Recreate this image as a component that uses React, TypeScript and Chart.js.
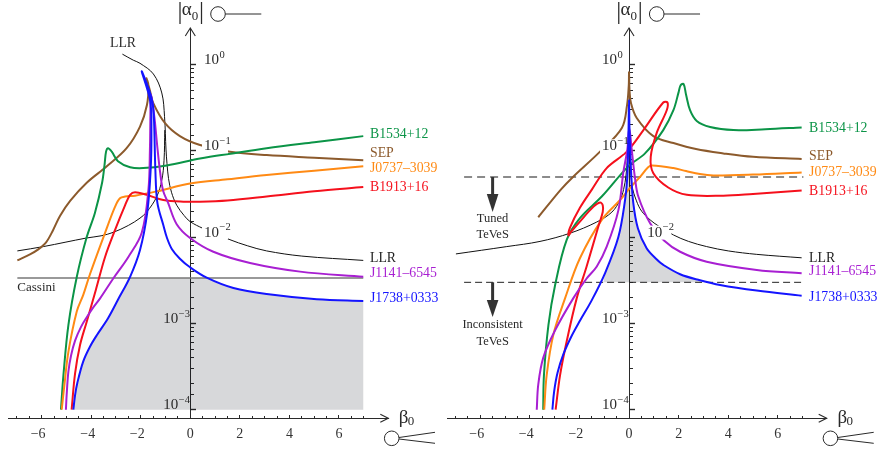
import React, { useEffect, useRef } from "react";
import { Chart, registerables } from "chart.js";

Chart.register(...registerables);

type Pt = [number, number]; // [beta0, log10 |alpha0|]

// ---------- left panel curves ----------
const L_J1738: Pt[] = [[-4.72,-4],[-4.65,-3.83],[-4.56,-3.69],[-4.32,-3.44],[-4.05,-3.27],[-3.78,-3.14],[-3.32,-2.94],[-2.91,-2.72],[-2.43,-2.46],[-2.03,-2.15],[-1.74,-1.72],[-1.6,-1.22],[-1.57,-0.76],[-1.62,-0.42],[-1.96,-0.08],[-1.66,-0.3],[-1.52,-0.45],[-1.465,-0.64],[-1.41,-1.22],[-1.33,-1.6],[-1.09,-1.86],[-0.94,-2.01],[-0.74,-2.14],[-0.42,-2.25],[-0.01,-2.35],[0.66,-2.47],[1.74,-2.59],[3.08,-2.66],[5.1,-2.72],[6.98,-2.74]];
const L_J1141: Pt[] = [[-5.02,-4],[-4.99,-3.83],[-4.92,-3.56],[-4.81,-3.37],[-4.65,-3.2],[-4.41,-3.04],[-4.16,-2.92],[-3.93,-2.82],[-3.64,-2.71],[-3.11,-2.48],[-2.5,-2.23],[-1.96,-1.95],[-1.69,-1.45],[-1.63,-0.99],[-1.61,-0.585],[-1.59,-0.35],[-1.45,-0.61],[-1.34,-0.93],[-1.22,-1.245],[-1.1,-1.46],[-0.9,-1.6],[-0.55,-1.85],[-0.01,-2.01],[0.93,-2.17],[2.41,-2.3],[4.43,-2.4],[6.98,-2.46]];
const L_B1913: Pt[] = [[-4.79,-4],[-4.65,-3.58],[-4.45,-3.25],[-4.18,-2.98],[-3.81,-2.61],[-3.44,-2.23],[-3.04,-1.92],[-2.63,-1.63],[-2.43,-1.51],[-2.23,-1.48],[-1.76,-1.51],[-1.09,-1.57],[-0.28,-1.59],[0.39,-1.59],[1.5,-1.575],[3.08,-1.53],[5,-1.47],[6.98,-1.42]];
const L_J0737: Pt[] = [[-5.19,-4],[-5.08,-3.71],[-4.92,-3.33],[-4.58,-2.86],[-4.32,-2.67],[-4.05,-2.43],[-3.44,-1.95],[-3.04,-1.65],[-2.84,-1.55],[-2.63,-1.53],[-2.23,-1.52],[-1.36,-1.47],[-0.01,-1.38],[1.5,-1.33],[3.08,-1.28],[5,-1.23],[6.98,-1.18]];
const L_B1534: Pt[] = [[-5.22,-4],[-5.12,-3.6],[-4.92,-3.02],[-4.58,-2.46],[-4.18,-2],[-3.85,-1.72],[-3.56,-1.37],[-3.46,-1.16],[-3.4,-1.01],[-3.32,-0.97],[-3.17,-1.01],[-2.92,-1.12],[-2.43,-1.19],[-1.9,-1.2],[-0.95,-1.17],[0.39,-1.09],[1.7,-1.03],[3.08,-0.97],[5,-0.9],[6.98,-0.83]];
const L_SEP: Pt[] = [[-6.98,-2.27],[-6.47,-2.2],[-6.15,-2.145],[-5.82,-2.06],[-5.54,-1.92],[-5.26,-1.755],[-4.85,-1.58],[-4.18,-1.37],[-3.37,-1.18],[-2.57,-0.97],[-2.03,-0.72],[-1.75,-0.47],[-1.69,-0.24],[-1.77,-0.16],[-1.63,-0.3],[-1.49,-0.45],[-1.02,-0.68],[-0.42,-0.83],[0.36,-0.93],[1.6,-1.01],[3.08,-1.05],[5,-1.08],[6.98,-1.11]];
const L_LLR_A: Pt[] = [[-2.74,0.12],[-2.3,0.05],[-2.03,0.014],[-1.49,-0.11],[-1.15,-0.33],[-1.04,-0.605],[-0.98,-0.99],[-0.94,-1.15],[-0.88,-1.32],[-0.76,-1.48],[-0.55,-1.63],[-0.25,-1.75],[-0.01,-1.82],[0.52,-1.9],[1.6,-2.03],[2.3,-2.1],[3.08,-2.16],[4.5,-2.22],[6.98,-2.27]];
const L_LLR_B: Pt[] = [[-6.98,-2.16],[-5.93,-2.11],[-4.18,-2.01],[-3.6,-1.985],[-3.11,-1.945],[-2.5,-1.865],[-2.03,-1.78],[-1.76,-1.71],[-1.36,-1.535],[-1.15,-1.34],[-1.06,-1.11],[-1.03,-0.76]];
const L_CASSINI: Pt[] = [[-6.98,-2.474],[6.98,-2.474]];
const L_SHADE: Pt[] = [[-4.72,-4],[-4.65,-3.83],[-4.56,-3.69],[-4.32,-3.44],[-4.05,-3.27],[-3.78,-3.14],[-3.32,-2.94],[-2.91,-2.72],[-2.5,-2.474],[0.66,-2.474],[1.74,-2.59],[3.08,-2.66],[5.1,-2.72],[6.98,-2.74],[6.98,-4]];

// ---------- right panel curves ----------
const R_J1738: Pt[] = [[-3.09,-4],[-3.02,-3.79],[-2.88,-3.57],[-2.65,-3.36],[-2.34,-3.16],[-1.98,-2.97],[-1.5,-2.73],[-0.97,-2.42],[-0.43,-2],[-0.16,-1.57],[-0.07,-1.3],[-0.02,-0.76],[0,-0.41],[0.02,-0.76],[0.08,-1.22],[0.17,-1.6],[0.36,-1.9],[0.71,-2.13],[1.12,-2.26],[1.37,-2.32],[2.06,-2.43],[2.86,-2.5],[3.67,-2.555],[5.15,-2.62],[6.96,-2.68]];
const R_J1141: Pt[] = [[-3.72,-4],[-3.66,-3.71],[-3.46,-3.4],[-2.98,-3.08],[-2.25,-2.71],[-1.71,-2.48],[-1.3,-2.34],[-0.9,-2.11],[-0.43,-1.69],[-0.23,-1.25],[-0.07,-0.99],[0.01,-0.74],[0.11,-0.99],[0.24,-1.315],[0.375,-1.53],[0.85,-1.84],[1.41,-2.04],[2.06,-2.17],[3.13,-2.285],[5.15,-2.38],[6.96,-2.42]];
const R_B1913: Pt[] = [[-2.96,-4],[-2.78,-3.6],[-2.5,-3.19],[-2.11,-2.71],[-1.71,-2.34],[-1.24,-1.88],[-1.06,-1.71],[-1.06,-1.63],[-1.17,-1.6],[-1.44,-1.65],[-1.98,-1.82],[-2.34,-1.94],[-2.44,-1.98],[-2.38,-1.89],[-1.98,-1.66],[-1.5,-1.45],[-0.9,-1.2],[-0.09,-1.01],[0.58,-0.76],[1.38,-0.44],[1.55,-0.44],[1.52,-0.53],[1.12,-0.79],[0.875,-1.07],[0.98,-1.26],[1.58,-1.425],[2.33,-1.51],[3.8,-1.52],[5,-1.5],[6.96,-1.46]];
const R_J0737: Pt[] = [[-3.42,-4],[-3.32,-3.6],[-3.05,-3.13],[-2.58,-2.71],[-1.98,-2.245],[-1.1,-1.8],[-0.36,-1.57],[0.04,-1.43],[0.48,-1.29],[0.77,-1.19],[0.93,-1.17],[1.79,-1.2],[2.3,-1.235],[2.86,-1.27],[3.4,-1.285],[5,-1.275],[6.96,-1.25]];
const R_B1534: Pt[] = [[-3.46,-4],[-3.43,-3.6],[-3.25,-3.02],[-2.98,-2.555],[-2.51,-2.03],[-1.98,-1.78],[-1.1,-1.53],[-0.03,-1.18],[0.645,-1.03],[1.38,-0.76],[1.79,-0.53],[2,-0.32],[2.08,-0.24],[2.2,-0.226],[2.3,-0.35],[2.46,-0.53],[2.73,-0.655],[3.27,-0.725],[4.21,-0.76],[5.5,-0.75],[6.96,-0.73]];
const R_SEP: Pt[] = [[-3.66,-1.77],[-2.75,-1.45],[-2.25,-1.3],[-1.17,-1.01],[-0.29,-0.735],[-0.08,-0.47],[-0.01,-0.24],[0,-0.09],[0.02,-0.3],[0.08,-0.45],[0.31,-0.62],[0.98,-0.83],[1.79,-0.91],[2.7,-0.98],[3.8,-1.03],[5,-1.07],[6.96,-1.095]];
const R_LLR: Pt[] = [[-6.98,-2.195],[-4.93,-2.11],[-3.59,-2.05],[-2.38,-1.955],[-1.3,-1.825],[-0.69,-1.71],[-0.36,-1.57],[-0.22,-1.45],[-0.12,-1.28],[-0.01,-0.875],[0.02,-0.99],[0.12,-1.4],[0.3,-1.58],[0.51,-1.7],[0.85,-1.8],[1.18,-1.87],[1.79,-1.975],[2.4,-2.05],[3.13,-2.11],[4,-2.16],[5.15,-2.2],[6.96,-2.24]];
const R_TUNED: Pt[] = [[-6.65,-1.304],[7.03,-1.304]];
const R_INCONSISTENT: Pt[] = [[-6.65,-2.524],[7.03,-2.524]];
const R_SHADE: Pt[] = [[-1.03,-2.524],[-0.97,-2.42],[-0.43,-2],[-0.16,-1.57],[-0.07,-1.3],[0,-0.8],[0.08,-1.22],[0.17,-1.6],[0.36,-1.9],[0.71,-2.13],[1.12,-2.26],[1.37,-2.32],[2.06,-2.43],[2.98,-2.524]];

// ---------- labels ----------
const curveNames = ["B1534+12", "SEP", "J0737\u20133039", "B1913+16", "LLR", "J1141\u20136545", "J1738+0333"];
const curveColors = ["#0b9447", "#8c5a2c", "#ff8a14", "#f5101c", "#222222", "#a81fd2", "#1414ff"];
const leftNameLogA = [-0.811, -1.025, -1.205, -1.425, -2.25, -2.416, -2.706];
const rightNameLogA = [-0.736, -1.06, -1.251, -1.466, -2.242, -2.399, -2.694];
const decades = [0, -1, -2, -3, -4];

const GREEN = curveColors[0], BROWN = curveColors[1], ORANGE = curveColors[2], RED = curveColors[3], PURPLE = curveColors[5], BLUE = curveColors[6];
const INK = "#2a2a2a";
const SHADE = "rgba(0,6,18,0.155)";
const SERIF = "'Liberation Serif', serif";

const YMIN = Math.pow(10, -4.0997);
const YMAX = Math.pow(10, 0.423);

const toXY = (pts: Pt[]) => pts.map(([x, l]) => ({ x, y: Math.pow(10, l) }));
const curve = (label: string, pts: Pt[], color: string, width = 2) => ({
  label, data: toXY(pts), borderColor: color, borderWidth: width, showLine: true, pointRadius: 0, tension: 0.35, fill: false,
});
const straight = (label: string, pts: Pt[], color: string, width: number, dash: number[] = []) => ({
  label, data: toXY(pts), borderColor: color, borderWidth: width, borderDash: dash, showLine: true, pointRadius: 0, tension: 0, fill: false,
});
const shade = (pts: Pt[]) => ({
  label: "allowed", data: toXY(pts), borderWidth: 0, borderColor: "transparent", backgroundColor: SHADE, showLine: true, pointRadius: 0, tension: 0, fill: "shape",
});

const isDecade = (v: number) => Math.abs(Math.log10(v) - Math.round(Math.log10(v))) < 1e-6;

function text(ctx: CanvasRenderingContext2D, s: string, x: number, y: number, font: string, color = INK, align: CanvasTextAlign = "left") {
  ctx.font = font;
  ctx.fillStyle = color;
  ctx.textAlign = align;
  ctx.textBaseline = "middle";
  ctx.fillText(s, x, y);
}
function line(ctx: CanvasRenderingContext2D, pts: number[][], color = INK, width = 1) {
  ctx.beginPath();
  pts.forEach(([x, y], i) => (i ? ctx.lineTo(x, y) : ctx.moveTo(x, y)));
  ctx.strokeStyle = color;
  ctx.lineWidth = width;
  ctx.stroke();
}

type PanelOpts = {
  right: boolean;
  xMin: number;
  xMax: number;
  padLeft: number;
  padRight: number;
  datasets: any[];
  nameBeta: number;
  nameLogA: number[];
  rightDecades: number[];
  boxDecades: number[];
};

const annotate = (p: PanelOpts) => ({
  id: "annotate",
  afterDraw(chart: any) {
    const ctx: CanvasRenderingContext2D = chart.ctx;
    const sx = chart.scales.x, sy = chart.scales.y;
    const x0 = sx.getPixelForValue(0);
    const yAt = (l: number) => sy.getPixelForValue(Math.pow(10, l));
    ctx.save();
    // decade labels
    decades.forEach((d) => {
      const onRight = p.rightDecades.includes(d);
      const lx = x0 + (onRight ? (p.right ? 18.3 : 13.7) : -27);
      const ly = yAt(d) - 4.5;
      if (p.boxDecades.includes(d)) {
        ctx.fillStyle = "#ffffff";
        const bw = onRight ? 26 : 24;
        ctx.fillRect(lx - 2, ly - 7, bw, 14);
      }
      text(ctx, "10", lx, ly, `15px ${SERIF}`);
      text(ctx, d === 0 ? "0" : `\u2212${-d}`, lx + 15.5, ly - 5, `10.5px ${SERIF}`);
    });
    // curve names
    curveNames.forEach((n, i) => {
      text(ctx, n, sx.getPixelForValue(p.nameBeta), yAt(p.nameLogA[i]), `13.8px ${SERIF}`, curveColors[i]);
    });
    // axis arrowheads
    const top = chart.chartArea.top, bottom = chart.chartArea.bottom, rightEnd = chart.chartArea.right;
    line(ctx, [[x0 - 5, top + 8], [x0, top], [x0 + 5, top + 8]], INK, 1.1);
    line(ctx, [[rightEnd - 8, bottom - 4], [rightEnd, bottom], [rightEnd - 8, bottom + 4]], INK, 1.1);
    // |alpha0| with the scalar symbol
    text(ctx, "|", x0 - 12.8, 12, `25px ${SERIF}`);
    text(ctx, "\u03b1", x0 - 8.5, 10, `19px ${SERIF}`);
    text(ctx, "0", x0 + 1.5, 17, `13px ${SERIF}`);
    text(ctx, "|", x0 + 8.8, 12, `25px ${SERIF}`);
    ctx.beginPath();
    ctx.arc(x0 + 27.7, 14, 7.3, 0, Math.PI * 2);
    ctx.strokeStyle = INK;
    ctx.lineWidth = 1;
    ctx.stroke();
    line(ctx, [[x0 + 35, 14], [x0 + 71, 14]]);
    // beta0 with the scalar symbol
    text(ctx, "\u03b2", x0 + 208.5, 418, `19px ${SERIF}`);
    text(ctx, "0", x0 + 217.5, 422, `13px ${SERIF}`);
    ctx.beginPath();
    ctx.arc(x0 + 201.4, 438.3, 7.3, 0, Math.PI * 2);
    ctx.stroke();
    line(ctx, [[x0 + 208.7, 437.5], [x0 + 244.7, 432.3]]);
    line(ctx, [[x0 + 208.7, 439], [x0 + 244.7, 443.3]]);

    if (!p.right) {
      text(ctx, "LLR", 123, 43.5, `13.8px ${SERIF}`, INK, "center");
      text(ctx, "Cassini", sx.getPixelForValue(-6.98), 288, `13px ${SERIF}`);
    } else {
      const ax = sx.getPixelForValue(-5.5);
      const arrow = (y0: number, y1: number, y2: number) => {
        line(ctx, [[ax, y0], [ax, y1 + 1]], "#333333", 3);
        ctx.beginPath();
        ctx.moveTo(ax - 5.8, y1);
        ctx.lineTo(ax + 5.8, y1);
        ctx.lineTo(ax, y2);
        ctx.closePath();
        ctx.fillStyle = "#333333";
        ctx.fill();
      };
      arrow(yAt(-1.304), 194, 212);
      arrow(yAt(-2.524), 300, 317);
      text(ctx, "Tuned", ax, 218.5, `12.5px ${SERIF}`, INK, "center");
      text(ctx, "TeVeS", ax, 234.5, `12.5px ${SERIF}`, INK, "center");
      text(ctx, "Inconsistent", ax, 325, `12.5px ${SERIF}`, INK, "center");
      text(ctx, "TeVeS", ax, 341.5, `12.5px ${SERIF}`, INK, "center");
    }
    ctx.restore();
  },
});

function buildChart(canvas: HTMLCanvasElement, p: PanelOpts) {
  const inX = (v: number) => Math.abs(v) <= 7.001;
  const inY = (v: number) => v >= 0.99e-4 && v <= 1.001;
  const hidden = { display: false };
  return new Chart(canvas, {
    type: "scatter",
    data: { datasets: p.datasets },
    plugins: [annotate(p)],
    options: {
      responsive: false,
      animation: false,
      layout: { padding: { left: p.padLeft, right: p.padRight, top: 28, bottom: 30.7 } },
      plugins: { legend: hidden, tooltip: { enabled: false } },
      scales: {
        x: {
          type: "linear",
          axis: "x",
          position: { y: YMIN },
          min: p.xMin,
          max: p.xMax,
          grid: { drawOnChartArea: false, tickLength: -4, tickColor: INK, tickWidth: 1 },
          border: { color: INK, width: 1 },
          ticks: {
            stepSize: 2,
            includeBounds: false,
            autoSkip: false,
            maxRotation: 0,
            padding: 12,
            color: "#333333",
            font: { family: "Liberation Serif", size: 14 },
            callback: (v: number) => (v < 0 ? `\u2212${-v}\u2002` : `${v}`),
          },
        },
        xMinor: {
          type: "linear",
          axis: "x",
          position: { y: YMIN },
          min: p.xMin,
          max: p.xMax,
          grid: {
            drawOnChartArea: false,
            tickLength: -2,
            tickColor: INK,
            tickWidth: (c: any) => (inX(c.tick.value) ? 1 : 0),
          },
          border: { display: false },
          ticks: { stepSize: 0.5, includeBounds: false, autoSkip: false, display: false },
        },
        y: {
          type: "logarithmic",
          axis: "y",
          position: { x: 0 },
          min: YMIN,
          max: YMAX,
          grid: {
            drawOnChartArea: false,
            tickLength: -6,
            tickColor: INK,
            tickWidth: (c: any) => (isDecade(c.tick.value) && inY(c.tick.value) ? 1.4 : 0),
          },
          border: { color: INK, width: 1 },
          ticks: { display: false, autoSkip: false },
        },
        yMinor: {
          type: "logarithmic",
          axis: "y",
          position: { x: 0 },
          min: YMIN,
          max: YMAX,
          grid: {
            drawOnChartArea: false,
            tickLength: -4,
            tickColor: INK,
            tickWidth: (c: any) => (!isDecade(c.tick.value) && inY(c.tick.value) ? 1 : 0),
          },
          border: { display: false },
          ticks: { display: false, autoSkip: false },
        },
      },
    } as any,
  } as any);
}

const leftPanel: PanelOpts = {
  right: false,
  xMin: -7.357,
  xMax: 7.99,
  padLeft: 8,
  padRight: 51.7,
  nameBeta: 7.25,
  nameLogA: leftNameLogA,
  rightDecades: [0, -1, -2],
  boxDecades: [0, -1, -2],
  datasets: [
    curve("J1738+0333", L_J1738, BLUE),
    curve("J1141-6545", L_J1141, PURPLE),
    curve("B1913+16", L_B1913, RED),
    curve("J0737-3039", L_J0737, ORANGE),
    curve("B1534+12", L_B1534, GREEN),
    curve("SEP", L_SEP, BROWN),
    curve("LLR", L_LLR_A, "#111111", 1),
    curve("LLR", L_LLR_B, "#111111", 1),
    straight("Cassini", L_CASSINI, "#777777", 1.5),
    shade(L_SHADE),
  ],
};

const rightPanel: PanelOpts = {
  right: true,
  xMin: -7.327,
  xMax: 7.97,
  padLeft: 7.3,
  padRight: 52.3,
  nameBeta: 7.26,
  nameLogA: rightNameLogA,
  rightDecades: [-2],
  boxDecades: [-1, -2],
  datasets: [
    curve("J1738+0333", R_J1738, BLUE),
    curve("J1141-6545", R_J1141, PURPLE),
    curve("B1913+16", R_B1913, RED),
    curve("J0737-3039", R_J0737, ORANGE),
    curve("B1534+12", R_B1534, GREEN),
    curve("SEP", R_SEP, BROWN),
    curve("LLR", R_LLR, "#111111", 1),
    straight("Tuned TeVeS", R_TUNED, "#666666", 1.4, [8, 5]),
    straight("Inconsistent TeVeS", R_INCONSISTENT, "#222222", 1, [7, 4]),
    shade(R_SHADE),
  ],
};

export default function App() {
  const a = useRef<HTMLCanvasElement>(null);
  const b = useRef<HTMLCanvasElement>(null);
  useEffect(() => {
    const c1 = buildChart(a.current!, leftPanel);
    const c2 = buildChart(b.current!, rightPanel);
    return () => {
      c1.destroy();
      c2.destroy();
    };
  }, []);
  return (
    <div style={{ position: "fixed", left: 0, top: 0, width: 879, height: 449, background: "#fff", overflow: "hidden" }}>
      <canvas ref={a} width={440} height={449} style={{ position: "absolute", left: 0, top: 0 }} />
      <canvas ref={b} width={439} height={449} style={{ position: "absolute", left: 440, top: 0 }} />
    </div>
  );
}
